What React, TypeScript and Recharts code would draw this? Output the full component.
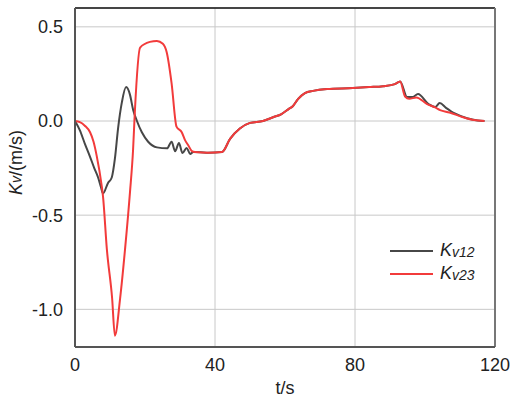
import React from "react";
import {
  LineChart,
  Line,
  XAxis,
  YAxis,
  CartesianGrid,
  ReferenceLine,
} from "recharts";

const xTicks = [0, 40, 80, 120];
const yTicks = [-1.0, -0.5, 0.0, 0.5];

const kv12T = [0, 1.4, 2.8, 4.3, 5.5, 6.6, 7.4, 8, 9.4, 10.5, 11.4, 12.3, 13.4, 14.6, 15.7, 16.6, 17.7, 19.1, 20.9, 23.4, 26.3, 27.6, 28.6, 29.7, 30.7, 31.9, 32.9, 33.8, 36, 38, 42, 44.3, 47.1, 50, 53.7, 56.6, 59, 61, 62.3, 63.7, 65.7, 68, 72, 79.4, 84, 88, 91.4, 92.9, 94.9, 96.5, 98, 101, 102.9, 104.2, 106, 108.5, 112, 115, 117];
const kv12V = [0, -0.05, -0.12, -0.19, -0.25, -0.3, -0.35, -0.385, -0.33, -0.3, -0.2, -0.04, 0.1, 0.18, 0.14, 0.06, 0, -0.06, -0.11, -0.14, -0.145, -0.11, -0.16, -0.117, -0.17, -0.143, -0.175, -0.165, -0.166, -0.168, -0.165, -0.095, -0.04, -0.01, 0, 0.02, 0.037, 0.063, 0.08, 0.116, 0.148, 0.16, 0.17, 0.175, 0.18, 0.185, 0.196, 0.21, 0.127, 0.128, 0.143, 0.09, 0.074, 0.095, 0.07, 0.04, 0.015, 0.003, 0];

const kv23T = [0, 1.4, 2.8, 4.3, 5.3, 6.2, 7.6, 8, 9.1, 10.6, 11.4, 12.9, 14.3, 15.7, 16.6, 17.1, 18.6, 21.4, 23.4, 25.1, 26.2, 27.6, 29, 30.5, 31.4, 32.4, 33.4, 34.3, 38, 42, 44.3, 47.1, 50, 53.7, 56.6, 59, 61, 62.3, 63.7, 65.7, 68, 72, 79.4, 84, 88, 91.4, 92.9, 94.3, 95.5, 97.5, 100.6, 102.9, 104.3, 107, 110.9, 114, 117];
const kv23V = [0, -0.006, -0.025, -0.06, -0.11, -0.185, -0.34, -0.4, -0.68, -0.94, -1.14, -0.94, -0.68, -0.38, -0.15, 0.05, 0.39, 0.42, 0.425, 0.41, 0.365, 0.2, -0.03, -0.06, -0.1, -0.13, -0.16, -0.165, -0.168, -0.165, -0.095, -0.04, -0.01, 0, 0.02, 0.037, 0.063, 0.08, 0.116, 0.148, 0.16, 0.17, 0.175, 0.18, 0.185, 0.196, 0.21, 0.13, 0.118, 0.125, 0.09, 0.072, 0.058, 0.045, 0.02, 0.005, 0];

const seriesNames = ["12", "23"];
const colors = ["#474747", "#f23b3b"];

const kv12Data = kv12T.map((t, i) => ({ t, v: kv12V[i] }));
const kv23Data = kv23T.map((t, i) => ({ t, v: kv23V[i] }));

const FONT = "'Liberation Sans', Arial, sans-serif";

const YLabel = (props: any) => {
  const vb = props.viewBox || {};
  const cx = 16;
  const cy = vb.y + vb.height / 2 - 15;
  return (
    <text
      x={cx}
      y={cy}
      transform={`rotate(-90, ${cx}, ${cy})`}
      textAnchor="middle"
      dominantBaseline="central"
      fontFamily={FONT}
      fontSize={18}
      fill="#222"
    >
      <tspan fontStyle="italic">K</tspan>
      <tspan fontStyle="italic" fontSize={14}>v</tspan>
      <tspan>/(m/s)</tspan>
    </text>
  );
};

const XLabel = (props: any) => {
  const vb = props.viewBox || {};
  return (
    <text
      x={vb.x + vb.width / 2}
      y={388}
      textAnchor="middle"
      dominantBaseline="central"
      fontFamily={FONT}
      fontSize={18}
      fill="#222"
    >
      t/s
    </text>
  );
};

const LegendBox = () => (
  <div style={{ position: "absolute", left: 390, top: 239, fontFamily: FONT, color: "#222" }}>
    {seriesNames.map((n, i) => (
      <div key={n} style={{ display: "flex", alignItems: "center", height: 23 }}>
        <div style={{ width: 43, height: 2, background: colors[i], marginRight: 7 }} />
        <span style={{ fontStyle: "italic", fontSize: 18 }}>K</span>
        <span style={{ fontStyle: "italic", fontSize: 14, marginTop: 3 }}>{"v" + n}</span>
      </div>
    ))}
  </div>
);

export default function App() {
  return (
    <div style={{ position: "absolute", left: 0, top: 0, width: 511, height: 399, background: "#fff" }}>
      <LineChart
        width={511}
        height={399}
        margin={{ top: 8, right: 16, bottom: 0, left: 0 }}
      >
        <CartesianGrid stroke="#c8c8c8" strokeWidth={1} vertical={true} horizontal={true} />
        <XAxis
          type="number"
          dataKey="t"
          domain={[0, 120]}
          ticks={xTicks}
          allowDuplicatedCategory={false}
          height={52}
          tickLine={false}
          tickSize={5}
          tickMargin={6}
          axisLine={{ stroke: "#555", strokeWidth: 2 }}
          tick={{ fontFamily: FONT, fontSize: 18, fill: "#222" }}
          label={<XLabel />}
        />
        <YAxis
          type="number"
          domain={[-1.2, 0.6]}
          ticks={yTicks}
          width={75}
          tickLine={false}
          tickSize={6}
          tickMargin={6}
          tickFormatter={(v: number) => v.toFixed(1)}
          axisLine={{ stroke: "#555", strokeWidth: 2 }}
          tick={{ fontFamily: FONT, fontSize: 18, fill: "#222" }}
          label={<YLabel />}
        />
        <ReferenceLine y={0.6} stroke="#111" strokeWidth={1.5} />
        <ReferenceLine x={120} stroke="#777" strokeWidth={2} />
        <Line
          data={kv12Data}
          dataKey="v"
          name="Kv12"
          stroke={colors[0]}
          strokeWidth={2}
          dot={false}
          isAnimationActive={false}
          type="monotone"
        />
        <Line
          data={kv23Data}
          dataKey="v"
          name="Kv23"
          stroke={colors[1]}
          strokeWidth={2}
          dot={false}
          isAnimationActive={false}
          type="monotone"
        />
      </LineChart>
      <LegendBox />
    </div>
  );
}
